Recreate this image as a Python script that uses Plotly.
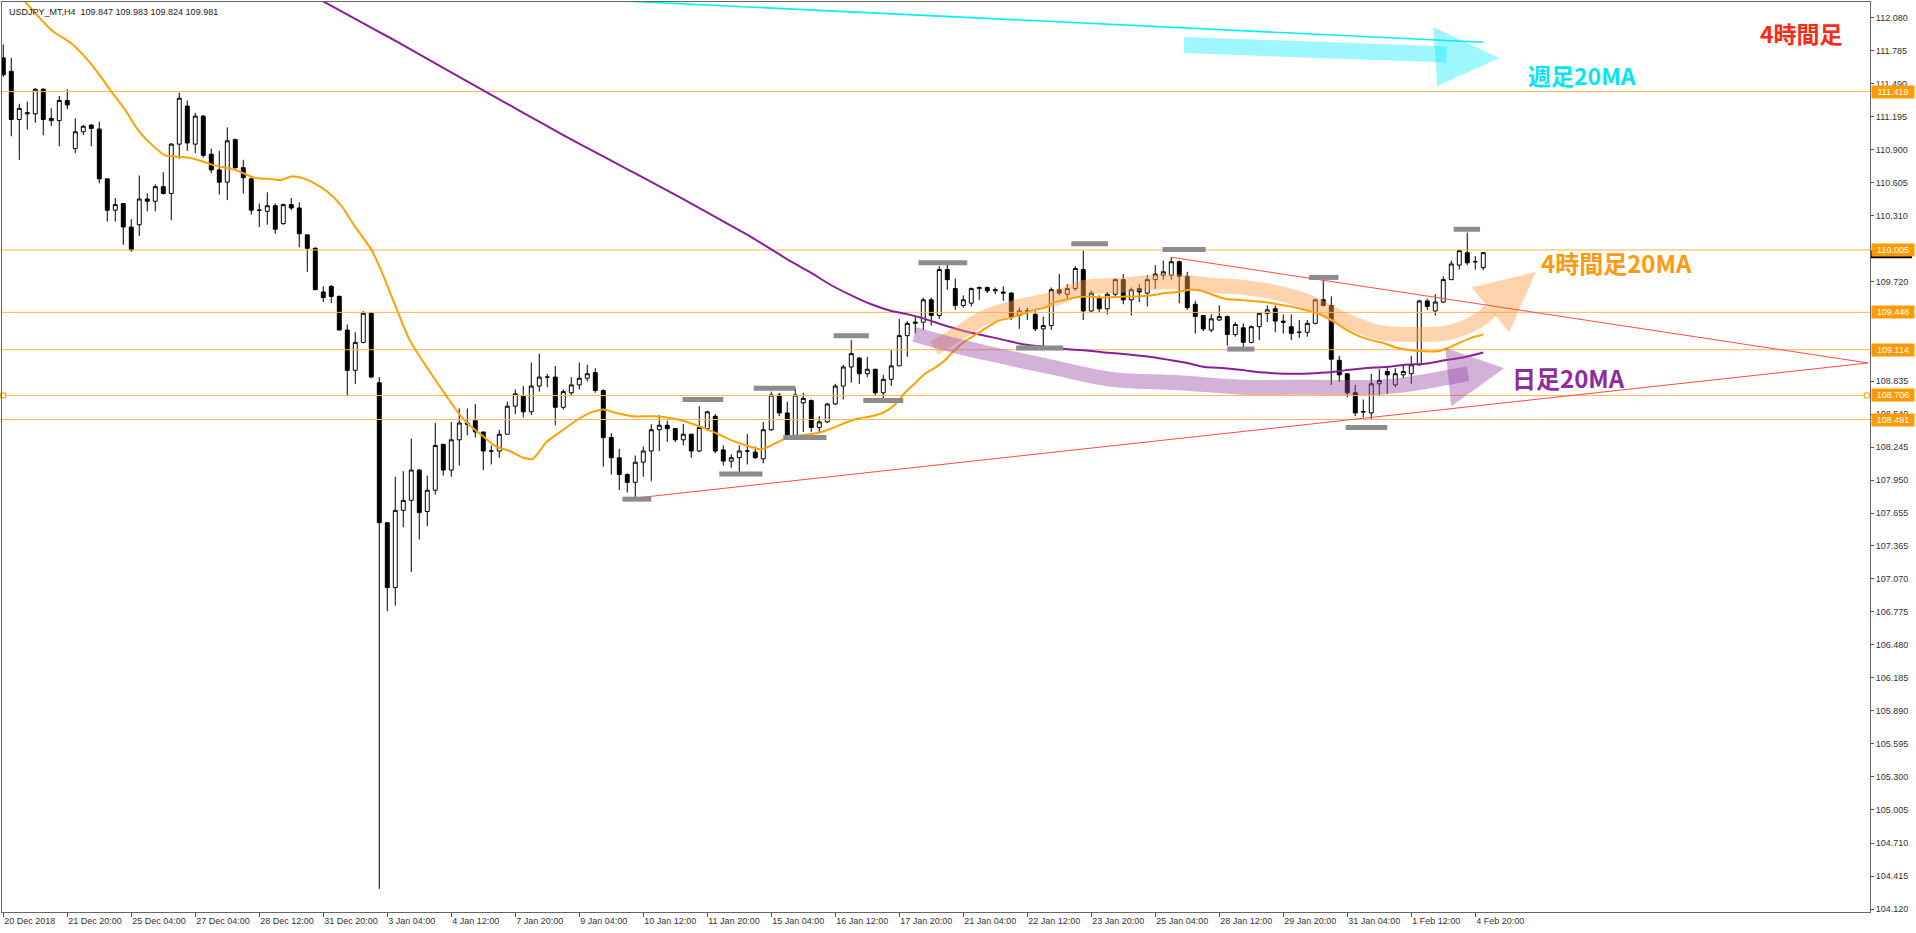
import plotly.graph_objects as go

# ---------------- data ----------------
bars = list(range(186))
opens = [111.72,111.60,111.17,111.22,111.22,111.44,111.18,111.16,111.34,110.91,
         111.06,111.12,111.085,110.64,110.36,110.42,110.21,110.23,110.46,110.44,
         110.57,110.51,110.95,111.29,110.95,111.20,110.86,110.72,110.61,110.99,
         110.74,110.64,110.36,110.35,110.40,110.24,110.41,110.38,110.14,110.02,
         109.63,109.68,109.59,109.29,108.93,109.18,109.44,108.82,107.57,106.99,
         107.68,107.77,108.04,107.67,107.86,108.27,108.04,108.31,108.46,108.48,
         108.38,108.21,108.21,108.36,108.61,108.70,108.56,108.79,108.87,108.87,
         108.60,108.73,108.80,108.86,108.91,108.75,108.33,108.15,108.00,107.93,
         108.11,108.21,108.40,108.44,108.41,108.31,108.36,108.21,108.41,108.52,
         108.22,108.12,108.15,108.21,108.20,108.14,108.40,108.71,108.55,108.35,
         108.64,108.66,108.42,108.47,108.63,108.79,108.96,109.04,108.90,108.94,
         108.73,108.85,108.97,109.24,109.35,109.36,109.56,109.42,109.83,109.66,
         109.51,109.53,109.66,109.67,109.64,109.63,109.62,109.42,109.46,109.43,
         109.30,109.33,109.65,109.61,109.66,109.83,109.46,109.58,109.48,109.61,
         109.74,109.56,109.66,109.62,109.74,109.78,109.78,109.90,109.77,109.52,
         109.42,109.29,109.38,109.41,109.25,109.31,109.18,109.32,109.44,109.48,
         109.37,109.32,109.27,109.27,109.35,109.56,109.51,109.02,108.90,108.73,
         108.56,108.55,108.81,108.92,108.80,108.89,108.90,108.98,109.55,109.46,
         109.54,109.74,109.87,109.98,109.90,109.847]
highs = [111.84,111.72,111.31,111.33,111.45,111.45,111.27,111.38,111.44,111.18,
         111.12,111.13,111.15,110.64,110.47,110.42,110.28,110.67,110.51,110.59,
         110.70,110.96,111.41,111.34,111.23,111.21,110.91,110.89,111.10,111.00,
         110.81,110.65,110.42,110.52,110.42,110.42,110.47,110.43,110.14,110.03,
         109.68,109.69,109.60,109.34,109.27,109.46,109.45,108.87,107.57,107.98,
         108.03,108.32,108.05,107.99,108.46,108.27,108.47,108.59,108.59,108.63,
         108.38,108.26,108.40,108.65,108.76,108.79,109.00,109.08,108.90,108.97,
         108.76,108.87,109.00,108.98,108.95,108.76,108.37,108.23,108.01,108.17,
         108.25,108.45,108.53,108.48,108.41,108.45,108.36,108.61,108.57,108.54,
         108.26,108.18,108.26,108.36,108.25,108.47,108.74,108.73,108.65,108.77,
         108.73,108.67,108.52,108.64,108.81,108.98,109.20,109.05,109.05,108.94,
         108.89,109.11,109.39,109.37,109.42,109.58,109.58,109.86,109.89,109.75,
         109.60,109.67,109.68,109.68,109.67,109.68,109.63,109.49,109.49,109.46,
         109.41,109.67,109.79,109.70,109.86,110.00,109.64,109.60,109.63,109.75,
         109.79,109.67,109.70,109.78,109.87,109.91,109.94,109.91,109.81,109.55,
         109.42,109.43,109.51,109.42,109.36,109.35,109.33,109.44,109.51,109.51,
         109.43,109.43,109.38,109.38,109.57,109.74,109.59,109.06,108.90,108.80,
         108.67,108.90,108.94,108.96,108.95,108.98,109.06,109.56,109.57,109.61,
         109.77,109.91,110.01,110.16,109.95,109.983]
lows = [111.55,111.02,110.81,111.08,111.14,111.03,111.11,110.93,111.26,110.87,
        111.03,110.93,110.60,110.26,110.26,110.05,109.99,110.13,110.35,110.35,
        110.50,110.27,110.82,110.89,110.87,110.83,110.69,110.50,110.45,110.73,
        110.51,110.32,110.21,110.23,110.15,110.23,110.36,110.03,109.81,109.65,
        109.54,109.53,109.29,108.70,108.81,109.17,108.86,104.30,106.78,106.83,
        107.53,107.13,107.42,107.54,107.82,107.99,107.98,108.08,108.35,108.33,
        108.04,108.09,108.15,108.36,108.54,108.51,108.53,108.74,108.78,108.44,
        108.58,108.70,108.76,108.83,108.73,108.07,108.00,107.86,107.84,107.79,
        107.98,107.94,108.21,108.29,108.29,108.26,108.15,108.20,108.39,108.19,
        108.08,108.06,107.99,108.09,108.14,108.10,108.39,108.52,108.31,108.34,
        108.38,108.38,108.38,108.46,108.62,108.67,108.82,108.81,108.87,108.70,
        108.67,108.79,108.97,109.05,109.26,109.29,109.33,109.39,109.65,109.47,
        109.49,109.50,109.56,109.62,109.61,109.55,109.38,109.30,109.38,109.28,
        109.12,109.29,109.60,109.57,109.64,109.38,109.45,109.45,109.43,109.58,
        109.52,109.42,109.54,109.50,109.66,109.74,109.74,109.53,109.47,109.26,
        109.28,109.27,109.37,109.15,109.23,109.12,109.17,109.20,109.36,109.27,
        109.26,109.20,109.22,109.23,109.34,109.50,108.80,108.83,108.69,108.52,
        108.51,108.49,108.70,108.72,108.78,108.86,108.81,108.97,109.47,109.42,
        109.53,109.74,109.83,109.87,109.83,109.824]
closes = [111.57,111.17,111.27,111.23,111.44,111.17,111.16,111.34,111.30,111.06,
          111.11,111.09,110.64,110.36,110.41,110.21,110.005,110.46,110.44,110.57,
          110.51,110.95,111.36,110.96,111.20,110.85,110.72,110.61,110.98,110.74,
          110.65,110.36,110.36,110.40,110.19,110.41,110.38,110.15,110.02,109.65,
          109.58,109.59,109.29,108.93,109.18,109.44,108.87,107.57,106.99,107.68,
          107.77,108.04,107.66,107.86,108.26,108.04,108.31,108.46,108.45,108.38,
          108.21,108.21,108.36,108.61,108.72,108.56,108.79,108.87,108.87,108.60,
          108.74,108.80,108.86,108.90,108.75,108.33,108.15,108.00,107.93,108.11,
          108.21,108.40,108.44,108.41,108.31,108.36,108.21,108.42,108.56,108.21,
          108.12,108.15,108.21,108.21,108.15,108.40,108.71,108.55,108.34,108.71,
          108.68,108.42,108.47,108.63,108.79,108.96,109.08,108.90,108.94,108.73,
          108.85,108.97,109.24,109.35,109.36,109.56,109.42,109.83,109.74,109.51,
          109.56,109.66,109.67,109.64,109.65,109.62,109.41,109.46,109.46,109.30,
          109.33,109.65,109.62,109.66,109.84,109.46,109.62,109.48,109.61,109.74,
          109.56,109.65,109.63,109.74,109.79,109.81,109.90,109.77,109.49,109.41,
          109.30,109.39,109.41,109.25,109.34,109.18,109.32,109.44,109.47,109.37,
          109.36,109.26,109.27,109.35,109.56,109.51,109.03,108.89,108.73,108.55,
          108.56,108.81,108.84,108.89,108.90,108.92,108.98,109.55,109.50,109.54,
          109.74,109.88,110.00,109.89,109.90,109.981]

xtick_bars = [0, 8, 16, 24, 32, 40, 48, 56, 64, 72, 80, 88, 96, 104, 112,
              120, 128, 136, 144, 152, 160, 168, 176, 184]
xtick_labels = ["20 Dec 2018", "21 Dec 20:00", "25 Dec 04:00", "27 Dec 04:00",
                "28 Dec 12:00", "31 Dec 20:00", "3 Jan 04:00", "4 Jan 12:00",
                "7 Jan 20:00", "9 Jan 04:00", "10 Jan 12:00", "11 Jan 20:00",
                "15 Jan 04:00", "16 Jan 12:00", "17 Jan 20:00", "21 Jan 04:00",
                "22 Jan 12:00", "23 Jan 20:00", "25 Jan 04:00", "28 Jan 12:00",
                "29 Jan 20:00", "31 Jan 04:00", "1 Feb 12:00", "4 Feb 20:00"]

# price-scale labels that are visible (the ones fully hidden under the level tags are left out)
ytick_vals = [112.080, 111.785, 111.490, 111.195, 110.900, 110.605, 110.310,
              109.720, 108.835, 108.540, 108.245,
              107.950, 107.655, 107.365, 107.070, 106.775, 106.480, 106.185,
              105.890, 105.595, 105.300, 105.005, 104.710, 104.415, 104.120]
ytick_text = ["%.3f" % v for v in ytick_vals]

level_prices = [111.419, 110.005, 109.448, 109.114, 108.706, 108.491]
current_price = 109.981
header_text = "USDJPY_MT,H4\u00a0\u00a0109.847 109.983 109.824 109.981"

# 4H 20MA (orange)
ma4h_x = [2.5, 6.0, 8.5, 10.8, 12.0, 13.5, 15.2, 16.8, 18.5, 20.2, 21.4, 23.1, 24.75,
          26.4, 29.0, 31.4, 33.1, 34.75, 36.0, 37.25, 38.9, 40.6, 42.25, 43.9, 46.0,
          47.25, 50.8, 53.3, 55.4, 57.0, 58.3, 60.0, 61.6, 63.3, 65.0, 66.2, 67.9,
          70.0, 71.6, 73.3, 75.0, 76.6, 78.7, 81.2, 82.9, 85.0, 87.0, 89.1, 91.2,
          93.3, 94.75, 96.0, 97.7, 99.75, 101.8, 103.5, 105.2, 106.8, 108.5, 110.2,
          111.4, 112.7, 113.9, 115.2, 116.4, 117.7, 118.9, 120.2, 121.8, 123.1,
          124.3, 126.0, 127.25, 128.9, 130.2, 131.4, 132.7, 133.9, 135.6, 137.25,
          140.2, 141.8, 143.5, 145.2, 146.8, 148.5, 149.75, 151.0, 152.7, 154.3,
          156.0, 157.7, 159.3, 161.0, 162.7, 164.3, 166.0, 167.7, 169.3, 171.0,
          172.7, 174.3, 176.0, 177.7, 179.3, 180.6, 181.8, 183.5, 185.0]
ma4h_y = [112.24, 111.97, 111.85, 111.68, 111.57, 111.42, 111.26, 111.08, 110.95, 110.85,
          110.84, 110.83, 110.80, 110.76, 110.72, 110.65, 110.64, 110.63, 110.66, 110.65,
          110.60, 110.52, 110.40, 110.22, 110.01, 109.82, 109.20, 108.92, 108.70, 108.54,
          108.44, 108.34, 108.25, 108.21, 108.15, 108.14, 108.29, 108.40, 108.48, 108.55,
          108.58, 108.55, 108.52, 108.52, 108.51, 108.48, 108.43, 108.37, 108.30, 108.25,
          108.225, 108.26, 108.32, 108.35, 108.37, 108.41, 108.46, 108.50, 108.52, 108.56,
          108.62, 108.73, 108.81, 108.90, 108.95, 109.02, 109.11, 109.19, 109.26, 109.32,
          109.37, 109.40, 109.43, 109.47, 109.49, 109.54, 109.56, 109.58, 109.59, 109.58,
          109.59, 109.59, 109.60, 109.62, 109.63, 109.65, 109.64, 109.61, 109.57, 109.56,
          109.55, 109.54, 109.52, 109.50, 109.47, 109.44, 109.38, 109.30, 109.24, 109.20,
          109.17, 109.13, 109.11, 109.10, 109.10, 109.13, 109.17, 109.22, 109.25]

# Daily 20MA (purple)
mad_x = [39.6, 46.5, 49.6, 55, 60, 65, 70, 75, 80, 85, 90, 93.5, 96.0, 98.5, 101.0,
         103.5, 106.0, 108.5, 111.0, 113.1, 115.2, 117.7, 120.2, 122.7, 125.2, 127.7,
         130.2, 132.7, 135.2, 137.7, 141.0, 143.5, 146.0, 147.7, 150.2, 152.7, 155.2,
         157.7, 160.2, 162.7, 165.2, 167.7, 170.2, 172.7, 175.2, 177.7, 180.2, 182.7, 185.0]
mad_y = [112.24, 111.97, 111.85, 111.63, 111.43, 111.23, 111.03, 110.84, 110.65, 110.46,
         110.26, 110.12, 110.01, 109.90, 109.80, 109.69, 109.60, 109.52, 109.46, 109.43,
         109.39, 109.33, 109.28, 109.24, 109.20, 109.16, 109.14, 109.12, 109.11, 109.09,
         109.07, 109.05, 109.02, 109.00, 108.96, 108.95, 108.93, 108.91, 108.90, 108.90,
         108.91, 108.93, 108.95, 108.96, 108.98, 108.99, 109.02, 109.05, 109.09]

# Weekly 20MA (cyan)
maw_x = [77, 100, 122, 150, 185]
maw_y = [112.23, 112.15, 112.08, 111.98, 111.86]

# trend lines
trend_up_x = [146, 233.1]
trend_up_y = [109.94, 108.996]
trend_lo_x = [79, 233.1]
trend_lo_y = [107.79, 108.996]

# gray highlight marks (start bar, end bar, price)
mark_start = [77.4, 84.9, 89.5, 93.8, 97.5, 103.8, 107.5, 114.4, 126.6, 133.5, 144.9, 153.0, 163.2, 167.8, 181.3]
mark_end = [81.0, 90.0, 94.9, 99.0, 102.9, 108.2, 112.5, 120.5, 132.5, 138.1, 150.3, 156.4, 166.9, 173.0, 184.6]
mark_price = [107.78, 108.67, 108.005, 108.77, 108.33, 109.24, 108.66, 109.89, 109.13, 110.06, 110.01, 109.12, 109.76, 108.42, 110.19]

# hand-drawn arrows
cyan_shaft_x = [147.6, 180.4]
cyan_shaft_y = [111.835, 111.75]
cyan_head_x = [178.75, 187.0, 179.25]
cyan_head_y = [111.996, 111.72, 111.47]

orange_band_x = [116.4, 119.4, 122.6, 126.9, 131.0, 135.1, 139.75, 142.6, 146.9, 151.0,
                 155.1, 159.4, 163.5, 167.6, 171.9, 176.0, 180.1, 182.6, 185.1, 185.9]
orange_band_y = [109.13, 109.26, 109.40, 109.50, 109.56, 109.67, 109.69, 109.71, 109.72, 109.69,
                 109.67, 109.62, 109.53, 109.38, 109.27, 109.25, 109.26, 109.31, 109.41, 109.47]
orange_head_x = [183.5, 191.6, 188.25]
orange_head_y = [109.67, 109.81, 109.27]

purple_band_x = [113.9, 118.5, 122.6, 131.0, 138.5, 146.9, 155.1, 163.5, 171.9, 176.0, 180.1, 183.1]
purple_band_y = [109.25, 109.16, 109.09, 108.96, 108.85, 108.82, 108.78, 108.78, 108.78, 108.81, 108.86, 108.90]
purple_head_x = [180.25, 187.6, 181.0]
purple_head_y = [109.13, 108.95, 108.61]

X_RANGE = [-0.16, 233.34]
Y_RANGE = [104.094, 112.219]

FONT = "Liberation Sans, Arial, sans-serif"
JP = "Noto Sans CJK JP, sans-serif"

fig = go.Figure()

fig.add_trace(go.Candlestick(
    x=bars, open=opens, high=highs, low=lows, close=closes,
    increasing=dict(fillcolor="white", line=dict(color="black", width=1)),
    decreasing=dict(fillcolor="black", line=dict(color="black", width=1)),
    whiskerwidth=0, showlegend=False, hoverinfo="skip"))

# horizontal levels
for p in level_prices:
    fig.add_trace(go.Scatter(x=X_RANGE, y=[p, p], mode="lines",
                             line=dict(color="#FFB64D", width=1),
                             showlegend=False, hoverinfo="skip"))

# MAs
fig.add_trace(go.Scatter(x=maw_x, y=maw_y, mode="lines", line=dict(color="#00F2F2", width=1.6),
                         showlegend=False, hoverinfo="skip"))
fig.add_trace(go.Scatter(x=mad_x, y=mad_y, mode="lines", line=dict(color="#8A1E98", width=2, shape="spline", smoothing=0.6),
                         showlegend=False, hoverinfo="skip"))
fig.add_trace(go.Scatter(x=ma4h_x, y=ma4h_y, mode="lines", line=dict(color="#FFA100", width=2, shape="spline", smoothing=0.6),
                         showlegend=False, hoverinfo="skip"))

# arrows (translucent)
fig.add_trace(go.Scatter(x=cyan_shaft_x, y=cyan_shaft_y, mode="lines",
                         line=dict(color="rgba(0,232,255,0.38)", width=16),
                         showlegend=False, hoverinfo="skip"))
fig.add_trace(go.Scatter(x=cyan_head_x, y=cyan_head_y, mode="lines", fill="toself",
                         fillcolor="rgba(0,232,255,0.38)", line=dict(width=0, color="rgba(0,0,0,0)"),
                         showlegend=False, hoverinfo="skip"))
fig.add_trace(go.Scatter(x=orange_band_x, y=orange_band_y, mode="lines",
                         line=dict(color="rgba(255,160,70,0.45)", width=15, shape="spline"),
                         showlegend=False, hoverinfo="skip"))
fig.add_trace(go.Scatter(x=orange_head_x, y=orange_head_y, mode="lines", fill="toself",
                         fillcolor="rgba(255,160,70,0.45)", line=dict(width=0, color="rgba(0,0,0,0)"),
                         showlegend=False, hoverinfo="skip"))
fig.add_trace(go.Scatter(x=purple_band_x, y=purple_band_y, mode="lines",
                         line=dict(color="rgba(150,70,165,0.42)", width=15, shape="spline"),
                         showlegend=False, hoverinfo="skip"))
fig.add_trace(go.Scatter(x=purple_head_x, y=purple_head_y, mode="lines", fill="toself",
                         fillcolor="rgba(150,70,165,0.42)", line=dict(width=0, color="rgba(0,0,0,0)"),
                         showlegend=False, hoverinfo="skip"))

# trend lines
for tx, ty in ((trend_up_x, trend_up_y), (trend_lo_x, trend_lo_y)):
    fig.add_trace(go.Scatter(x=tx, y=ty, mode="lines", line=dict(color="#FF4A4A", width=1),
                             showlegend=False, hoverinfo="skip"))

# gray marks
gx, gy = [], []
for s, e, p in zip(mark_start, mark_end, mark_price):
    gx += [s, e, None]
    gy += [p, p, None]
fig.add_trace(go.Scatter(x=gx, y=gy, mode="lines", line=dict(color="#8C8C8C", width=5),
                         showlegend=False, hoverinfo="skip"))

# anchor squares of the 108.706 line
fig.add_trace(go.Scatter(x=[X_RANGE[0] + 0.15, X_RANGE[1] - 0.4], y=[level_prices[4]] * 2, mode="markers",
                         marker=dict(symbol="square", size=5, color="white",
                                     line=dict(color="#FF9A00", width=1)),
                         cliponaxis=False, showlegend=False, hoverinfo="skip"))

shapes = [
    # black current-price tag (mostly covered by the 110.005 tag)
    dict(type="rect", xref="paper", yref="y", x0=1.0005, x1=1.0225,
         y0=current_price - 0.05, y1=current_price + 0.02,
         fillcolor="black", line=dict(width=0), layer="above"),
]

annotations = []
for p in level_prices:
    annotations.append(dict(xref="paper", x=1, xanchor="left", xshift=1, y=p, yref="y",
                            text="%.3f" % p, showarrow=False, bgcolor="#FF9A00",
                            font=dict(family=FONT, size=9, color="white"), borderpad=1, width=40))
annotations.append(dict(xref="paper", yref="paper", x=0, y=1, xanchor="left", yanchor="top",
                        xshift=5, yshift=-3, text=header_text, showarrow=False,
                        font=dict(family=FONT, size=9, color="#222222")))
annotations += [
    dict(x=224.8, y=111.94, text="<b>4時間足</b>", showarrow=False,
         font=dict(family=JP, size=23, color="#FF2A14")),
    dict(x=197.4, y=111.57, text="<b>週足20MA</b>", showarrow=False,
         font=dict(family=JP, size=23, color="#00E6F0")),
    dict(x=201.6, y=109.89, text="<b>4時間足20MA</b>", showarrow=False,
         font=dict(family=JP, size=24, color="#FF9A10")),
    dict(x=195.7, y=108.87, text="<b>日足20MA</b>", showarrow=False,
         font=dict(family=JP, size=24, color="#8F2B9E")),
]

fig.update_layout(
    width=1916, height=933,
    margin=dict(l=2, r=46, t=2, b=21),
    paper_bgcolor="white", plot_bgcolor="white",
    showlegend=False, annotations=annotations, shapes=shapes,
    xaxis=dict(range=X_RANGE, rangeslider=dict(visible=False), tickmode="array",
               tickvals=xtick_bars, ticktext=xtick_labels, ticks="outside", ticklen=4,
               tickcolor="#555", showgrid=False, zeroline=False, showline=True,
               linecolor="#666", linewidth=1, mirror=True,
               ticklabelposition="outside right",
               tickfont=dict(family=FONT, size=9, color="#333")),
    yaxis=dict(range=Y_RANGE, side="right", tickmode="array", tickvals=ytick_vals,
               ticktext=ytick_text, ticks="outside", ticklen=3, tickcolor="#555",
               showgrid=False, zeroline=False, showline=True, linecolor="#666",
               linewidth=1, mirror=True,
               tickfont=dict(family=FONT, size=9, color="#333")),
)

fig.write_html("out.html", include_plotlyjs=True, config={"displayModeBar": False},
               post_script="document.body.style.margin='0';document.body.style.overflow='hidden';")
